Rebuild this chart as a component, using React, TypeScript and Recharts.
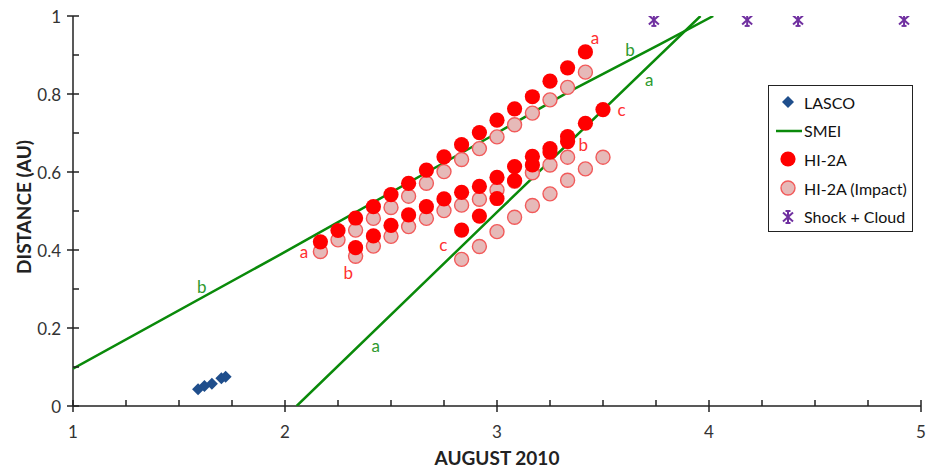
import React from "react";
import { Label, Scatter, ScatterChart, XAxis, YAxis } from "recharts";

// HI-2A tracks, 2-hour cadence (days of August 2010) and elongation-derived distance (AU)
const timesA = [2.167, 2.25, 2.333, 2.417, 2.5, 2.583, 2.667, 2.75, 2.833, 2.917, 3.0, 3.083, 3.167, 3.25, 3.333, 3.417];
const hiA = [0.421, 0.45, 0.482, 0.511, 0.542, 0.571, 0.605, 0.639, 0.67, 0.701, 0.733, 0.762, 0.793, 0.833, 0.867, 0.908];
const hiAImpact = [0.396, 0.426, 0.451, 0.481, 0.509, 0.538, 0.571, 0.601, 0.632, 0.66, 0.69, 0.721, 0.751, 0.785, 0.817, 0.856];

const timesB = [2.333, 2.417, 2.5, 2.583, 2.667, 2.75, 2.833, 2.917, 3.0, 3.083, 3.167, 3.25, 3.333];
const hiB = [0.406, 0.436, 0.463, 0.49, 0.511, 0.531, 0.548, 0.563, 0.586, 0.614, 0.64, 0.66, 0.691];
const hiBImpact = [0.384, 0.41, 0.435, 0.46, 0.481, 0.501, 0.515, 0.53, 0.554, 0.576, 0.598, 0.618, 0.638];

const timesC = [2.833, 2.917, 3.0, 3.083, 3.167, 3.25, 3.333, 3.417, 3.5];
const hiC = [0.451, 0.487, 0.532, 0.578, 0.618, 0.651, 0.678, 0.725, 0.76];
const hiCImpact = [0.376, 0.409, 0.447, 0.484, 0.514, 0.544, 0.579, 0.608, 0.638];

const lascoTimes = [1.59, 1.62, 1.655, 1.7, 1.72];
const lascoDist = [0.043, 0.051, 0.057, 0.071, 0.075];

const smeiATimes = [2.055, 3.0, 3.96];
const smeiADist = [0, 0.497, 1.0];
const smeiBTimes = [1, 2, 3, 3.34, 3.77, 4.02];
const smeiBDist = [0.096, 0.395, 0.7, 0.806, 0.928, 1.0];

const shockTimes = [3.74, 4.18, 4.42, 4.92];
const shockDist = [0.99, 0.99, 0.99, 0.99];

const xTicks = [1, 1.25, 1.5, 1.75, 2, 2.25, 2.5, 2.75, 3, 3.25, 3.5, 3.75, 4, 4.25, 4.5, 4.75, 5];
const yTicks = [0, 0.1, 0.2, 0.3, 0.4, 0.5, 0.6, 0.7, 0.8, 0.9, 1];

// track letters placed next to the tracks
const trackLabels = [
  { x: 2.09, y: 0.397, t: "a" },
  { x: 2.299, y: 0.342, t: "b" },
  { x: 2.747, y: 0.413, t: "c" },
  { x: 3.462, y: 0.944, t: "a" },
  { x: 3.407, y: 0.671, t: "b" },
  { x: 3.587, y: 0.759, t: "c" },
];
const smeiLabels = [
  { x: 1.607, y: 0.306, t: "b" },
  { x: 2.428, y: 0.156, t: "a" },
  { x: 3.627, y: 0.915, t: "b" },
  { x: 3.718, y: 0.838, t: "a" },
];

const pts = (xs: number[], ys: number[]) => xs.map((x, i) => ({ x, y: ys[i] }));

const FONT = "Lato, 'Open Sans', sans-serif";
const RED = "#ff0000";
const PINK = "#e6b9b8";
const PINK_EDGE = "#f25a5a";
const GREEN = "#0a8a0a";
const NAVY = "#1f4e8c";
const PURPLE = "#7030a0";

const SolidDot = (p: any) => <circle cx={p.cx} cy={p.cy} r={7.6} fill={RED} />;
const ImpactDot = (p: any) => (
  <circle cx={p.cx} cy={p.cy} r={7} fill={PINK} stroke={PINK_EDGE} strokeWidth={1.4} />
);
const Diamond = (p: any) => (
  <path d={`M${p.cx},${p.cy - 6}L${p.cx + 6},${p.cy}L${p.cx},${p.cy + 6}L${p.cx - 6},${p.cy}Z`} fill={NAVY} />
);
// asterisk marker: X, vertical stroke and short caps
const Star = (p: any) => {
  const { cx, cy } = p;
  return (
    <g stroke={PURPLE} strokeWidth={2}>
      <line x1={cx - 5} y1={cy - 4.5} x2={cx + 5} y2={cy + 4.5} />
      <line x1={cx - 5} y1={cy + 4.5} x2={cx + 5} y2={cy - 4.5} />
      <line x1={cx} y1={cy - 6.5} x2={cx} y2={cy + 6.5} />
      <line x1={cx - 2.5} y1={cy - 6} x2={cx + 2.5} y2={cy - 6} />
      <line x1={cx - 2.5} y1={cy + 6} x2={cx + 2.5} y2={cy + 6} />
    </g>
  );
};
const letter = (color: string) => (p: any) => (
  <text x={p.cx} y={p.cy} fill={color} fontSize={17} fontFamily={FONT} textAnchor="middle" dominantBaseline="central">
    {p.payload?.t}
  </text>
);
const NoDot = () => <g />;

function XTick({ x, y, payload }: any) {
  const major = Number.isInteger(payload.value);
  return (
    <g>
      <line x1={x} x2={x} y1={y - 6} y2={major ? y + 6 : y} stroke="#222" strokeWidth={1.5} />
      {major ? (
        <text x={x} y={y + 25} fill="#333" fontSize={17} fontFamily={FONT} textAnchor="middle" dominantBaseline="central">
          {payload.value}
        </text>
      ) : null}
    </g>
  );
}

function YTick({ x, y, payload }: any) {
  const major = Math.round(payload.value * 10) % 2 === 0;
  return (
    <g>
      <line x1={major ? x - 6 : x} x2={x + 6} y1={y} y2={y} stroke="#222" strokeWidth={1.5} />
      {major ? (
        <text x={x - 12} y={y} fill="#333" fontSize={17} fontFamily={FONT} textAnchor="end" dominantBaseline="central">
          {String(payload.value)}
        </text>
      ) : null}
    </g>
  );
}

const legendRows = [
  { name: "LASCO", kind: "diamond" },
  { name: "SMEI", kind: "line" },
  { name: "HI-2A", kind: "solid" },
  { name: "HI-2A (Impact)", kind: "impact" },
  { name: "Shock + Cloud", kind: "star" },
];

function LegendSymbol({ kind }: { kind: string }) {
  return (
    <svg width={30} height={20} style={{ flex: "none" }}>
      {kind === "diamond" && <Diamond cx={12} cy={10} />}
      {kind === "line" && <line x1={0} x2={26} y1={10} y2={10} stroke={GREEN} strokeWidth={2.5} />}
      {kind === "solid" && <SolidDot cx={12} cy={10} />}
      {kind === "impact" && <ImpactDot cx={12} cy={10} />}
      {kind === "star" && <Star cx={12} cy={10} />}
    </svg>
  );
}

export default function App() {
  return (
    <div style={{ position: "relative", width: 934, height: 469, background: "#fff" }}>
      <style>{"body{margin:0}"}</style>
      <ScatterChart width={934} height={469} margin={{ top: 16, right: 13, bottom: 0, left: 0 }}>
        <XAxis
          type="number"
          dataKey="x"
          domain={[1, 5]}
          ticks={xTicks}
          interval={0}
          allowDataOverflow
          height={63}
          tickLine={false}
          tickSize={0}
          tickMargin={0}
          axisLine={{ stroke: "#222", strokeWidth: 1.5 }}
          tick={<XTick />}
        >
          <Label
            content={() => (
              <text x={497} y={457} fontSize={19} fontWeight={700} fill="#222" fontFamily={FONT} textAnchor="middle" dominantBaseline="central">
                AUGUST 2010
              </text>
            )}
          />
        </XAxis>
        <YAxis
          type="number"
          dataKey="y"
          domain={[0, 1]}
          ticks={yTicks}
          interval={0}
          allowDataOverflow
          width={73}
          tickLine={false}
          tickSize={0}
          tickMargin={0}
          axisLine={{ stroke: "#222", strokeWidth: 1.5 }}
          tick={<YTick />}
        >
          <Label
            content={() => (
              <text
                x={23}
                y={207}
                transform="rotate(-90 23 207)"
                fontSize={19}
                fontWeight={700}
                fill="#222"
                fontFamily={FONT}
                textAnchor="middle"
                dominantBaseline="central"
              >
                DISTANCE (AU)
              </text>
            )}
          />
        </YAxis>

        <Scatter name="SMEI a" data={pts(smeiATimes, smeiADist)} fill={GREEN} line={{ stroke: GREEN, strokeWidth: 2.5 }} lineType="joint" shape={NoDot} isAnimationActive={false} />
        <Scatter name="SMEI b" data={pts(smeiBTimes, smeiBDist)} fill={GREEN} line={{ stroke: GREEN, strokeWidth: 2.5 }} lineType="joint" shape={NoDot} isAnimationActive={false} />

        <Scatter name="HI-2A (Impact) a" data={pts(timesA, hiAImpact)} shape={ImpactDot} isAnimationActive={false} />
        <Scatter name="HI-2A (Impact) b" data={pts(timesB, hiBImpact)} shape={ImpactDot} isAnimationActive={false} />
        <Scatter name="HI-2A (Impact) c" data={pts(timesC, hiCImpact)} shape={ImpactDot} isAnimationActive={false} />
        <Scatter name="HI-2A a" data={pts(timesA, hiA)} shape={SolidDot} isAnimationActive={false} />
        <Scatter name="HI-2A b" data={pts(timesB, hiB)} shape={SolidDot} isAnimationActive={false} />
        <Scatter name="HI-2A c" data={pts(timesC, hiC)} shape={SolidDot} isAnimationActive={false} />

        <Scatter name="LASCO" data={pts(lascoTimes, lascoDist)} shape={Diamond} isAnimationActive={false} />
        <Scatter name="Shock + Cloud" data={pts(shockTimes, shockDist)} shape={Star} isAnimationActive={false} />

        <Scatter name="track labels" data={trackLabels} shape={letter("#ff3030")} isAnimationActive={false} />
        <Scatter name="SMEI labels" data={smeiLabels} shape={letter("#2e9a2e")} isAnimationActive={false} />
      </ScatterChart>

      <div
        style={{
          position: "absolute",
          left: 768,
          top: 85,
          width: 145,
          height: 147,
          boxSizing: "border-box",
          border: "1.5px solid #222",
          background: "#fff",
          fontFamily: FONT,
          fontSize: 16,
          color: "#111",
        }}
      >
        {legendRows.map((row, i) => (
          <div
            key={row.name}
            style={{ position: "absolute", left: 7, top: 2 + i * 28.7, height: 28, display: "flex", alignItems: "center", whiteSpace: "nowrap" }}
          >
            <LegendSymbol kind={row.kind} />
            <span style={{ marginLeft: -2 }}>{row.name}</span>
          </div>
        ))}
      </div>
    </div>
  );
}
